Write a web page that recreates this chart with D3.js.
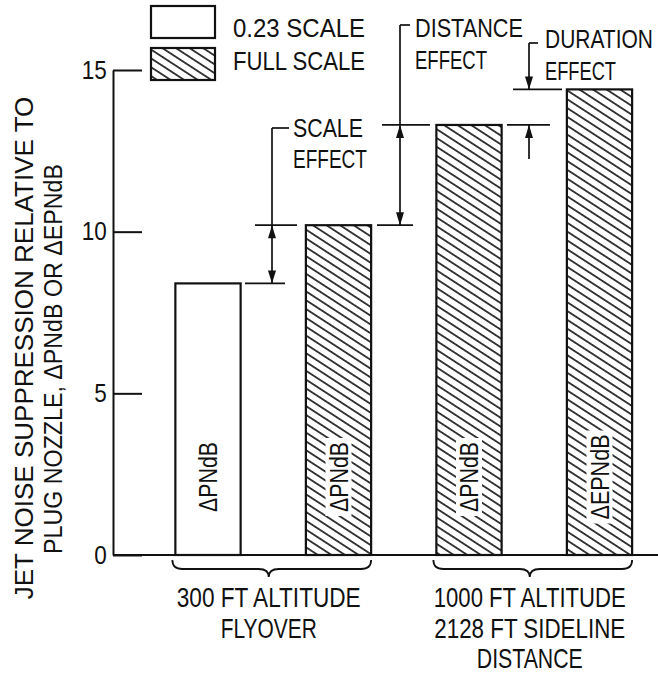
<!DOCTYPE html>
<html><head><meta charset="utf-8">
<script src="https://cdn.jsdelivr.net/npm/d3@7"></script>
<style>
html,body{margin:0;padding:0;background:#fff;}
svg text{font-family:"Liberation Sans", Arial, sans-serif; fill:#111;}
</style></head><body>
<svg id="chart" width="658" height="679"></svg>
<script>
// ---------- data ----------
const categories = ["300ft-0.23", "300ft-full", "1000ft-full-PNdB", "1000ft-full-EPNdB"];
const values = [8.4, 10.2, 13.3, 14.4];
const scaleKinds = ["0.23", "full", "full", "full"];
const barLabels = ["ΔPNdB", "ΔPNdB", "ΔPNdB", "ΔEPNdB"];
const yTicks = [0, 5, 10, 15];
const legendKinds = ["0.23", "full"];
const legendLabels = ["0.23 SCALE", "FULL SCALE"];
const groupMembers = [[0, 1], [2, 3]];
const groupLabels = [["300 FT ALTITUDE", "FLYOVER"], ["1000 FT ALTITUDE", "2128 FT SIDELINE", "DISTANCE"]];
const yTitle = ["JET NOISE SUPPRESSION RELATIVE TO", "PLUG NOZZLE, ΔPNdB OR ΔEPNdB"];
const effectNames = [["SCALE", "EFFECT"], ["DISTANCE", "EFFECT"], ["DURATION", "EFFECT"]];
const effectFrom = [0, 1, 2];
const effectTo = [1, 2, 3];

// ---------- layout ----------
const ink = "#111";
const svg = d3.select("#chart");
svg.append("rect").attr("width", 658).attr("height", 679).attr("fill", "#fff");

const y = d3.scaleLinear().domain([0, 15]).range([555, 70]);
const x = d3.scaleBand().domain(categories).range([142.75, 664.75]).paddingInner(0.5).paddingOuter(0.25);
const bw = x.bandwidth();

// place a text at (x0,y0), squeezed/stretched horizontally to length len
function place(t, x0, y0, len, rot) {
  t.attr("x", 0).attr("y", 0);
  const nat = t.node().getComputedTextLength();
  const s = len / nat;
  t.attr("transform", `translate(${x0},${y0})${rot ? ` rotate(${rot})` : ""} scale(${s.toFixed(4)},1)`);
  return t;
}

// hatch pattern
const defs = svg.append("defs");
const pat = defs.append("pattern").attr("id", "hatch").attr("patternUnits", "userSpaceOnUse")
  .attr("width", 10).attr("height", 7.4).attr("patternTransform", "rotate(33)");
pat.append("rect").attr("width", 10).attr("height", 7.4).attr("fill", "#fff");
pat.append("line").attr("x1", -1).attr("x2", 11).attr("y1", 3.7).attr("y2", 3.7)
  .attr("stroke", ink).attr("stroke-width", 1.6);
const fillFor = k => k === "0.23" ? "#fff" : "url(#hatch)";

// ---------- y axis ----------
const yAxis = d3.axisLeft(y).tickValues(yTicks).tickSize(-29).tickSizeOuter(0).tickPadding(6)
  .tickFormat(d3.format("d"));
const gy = svg.append("g").attr("transform", "translate(113,0)").call(yAxis);
gy.select(".domain").attr("stroke", ink).attr("stroke-width", 2);
gy.selectAll(".tick line").attr("stroke", ink).attr("stroke-width", 2);
gy.selectAll(".tick text").attr("font-size", 25).attr("font-family", "Liberation Sans, Arial, sans-serif")
  .attr("fill", ink).attr("transform", "scale(0.9,1)").attr("x", -7);

// baseline
svg.append("line").attr("x1", 113).attr("x2", 658).attr("y1", y(0)).attr("y2", y(0))
  .attr("stroke", ink).attr("stroke-width", 2);

// ---------- y title ----------
const titleLen = [503, 390];
const titleX = [33, 62];
const titleY = [348, 359];
yTitle.forEach((t, i) => {
  place(svg.append("text").attr("text-anchor", "middle").attr("font-size", 26).text(t),
    titleX[i], titleY[i], titleLen[i], -90);
});

// ---------- bars ----------
const bars = svg.append("g");
bars.selectAll("rect").data(categories).join("rect")
  .attr("x", d => x(d)).attr("y", (d, i) => y(values[i]))
  .attr("width", bw).attr("height", (d, i) => y(0) - y(values[i]))
  .attr("fill", (d, i) => fillFor(scaleKinds[i]))
  .attr("stroke", ink).attr("stroke-width", 2.2);

// bar labels with white backing
const labLen = l => l === "ΔEPNdB" ? 85 : 70;
const labCy = 477;
categories.forEach((c, i) => {
  const cx = x(c) + bw / 2;
  const L = labLen(barLabels[i]);
  if (scaleKinds[i] !== "0.23") {
    svg.append("rect").attr("x", cx - 13).attr("y", labCy - L / 2 - 4)
      .attr("width", 26).attr("height", L + 8).attr("fill", "#fff");
  }
  place(svg.append("text").attr("text-anchor", "middle").attr("font-size", 25).text(barLabels[i]),
    cx + 9, labCy, L, -90);
});

// ---------- legend ----------
const legY = [6, 48];
const legBase = [37, 70];
legendKinds.forEach((k, i) => {
  svg.append("rect").attr("x", 151).attr("y", legY[i]).attr("width", 64).attr("height", 32)
    .attr("fill", fillFor(k)).attr("stroke", ink).attr("stroke-width", 2.2);
  place(svg.append("text").attr("font-size", 26.5).text(legendLabels[i]), 233, legBase[i], 132);
});

// ---------- effect annotations ----------
const ann = svg.append("g").attr("stroke", ink).attr("stroke-width", 1.7);
function hline(x1, x2, yy) { ann.append("line").attr("x1", x1).attr("x2", x2).attr("y1", yy).attr("y2", yy); }
function vline(xx, y1, y2) { ann.append("line").attr("x1", xx).attr("x2", xx).attr("y1", y1).attr("y2", y2); }
function arrow(xx, tipY, dir) {
  const L = 13, W = 4;
  ann.append("path").attr("d", `M${xx},${tipY}L${xx - W},${tipY - dir * L}L${xx + W},${tipY - dir * L}Z`)
    .attr("fill", ink).attr("stroke", "none");
}
function annText(lines, tx, bases, lens) {
  lines.forEach((t, j) => place(svg.append("text").attr("font-size", 26).text(t), tx, bases[j], lens[j]));
}

// scale effect
{
  const lo = y(values[effectFrom[0]]), hi = y(values[effectTo[0]]);
  vline(272, 128, lo); hline(272, 289, 128);
  hline(255, 297, hi); hline(245, 285, lo);
  arrow(272, hi, -1); arrow(272, lo, 1);
  annText(effectNames[0], 293, [137, 168], [70, 74]);
}
// distance effect
{
  const lo = y(values[effectFrom[1]]), hi = y(values[effectTo[1]]);
  vline(400, 25, lo); hline(400, 410, 25);
  hline(382, 430, hi); hline(377, 413, lo);
  arrow(400, hi, -1); arrow(400, lo, 1);
  annText(effectNames[1], 415, [37, 69], [108, 72]);
}
// duration effect
{
  const lo = y(values[effectFrom[2]]), hi = y(values[effectTo[2]]);
  vline(529, 43, hi); hline(529, 538, 43);
  hline(513, 562, hi); hline(507, 550, lo);
  arrow(529, hi, 1);
  vline(529, 159, lo); arrow(529, lo, -1);
  annText(effectNames[2], 545, [48, 80], [108, 71]);
}

// ---------- group braces & labels ----------
const groupLens = [[184, 96], [192, 191, 106]];
groupMembers.forEach((m, g) => {
  const x0 = x(categories[m[0]]) - 3, x1 = x(categories[m[m.length - 1]]) + bw;
  const mid = (x0 + x1) / 2 - 3;
  const top = 560;
  const d = `M${x0},${top} Q${x0},${top + 9} ${x0 + 10},${top + 9} L${mid - 10},${top + 9} Q${mid},${top + 9} ${mid},${top + 17} Q${mid},${top + 9} ${mid + 10},${top + 9} L${x1 - 10},${top + 9} Q${x1},${top + 9} ${x1},${top}`;
  svg.append("path").attr("d", d).attr("fill", "none").attr("stroke", ink).attr("stroke-width", 1.8);
  groupLabels[g].forEach((t, j) => {
    place(svg.append("text").attr("text-anchor", "middle").attr("font-size", 27.5).text(t),
      mid, 607 + j * 30.7, groupLens[g][j]);
  });
});
</script>
</body></html>
